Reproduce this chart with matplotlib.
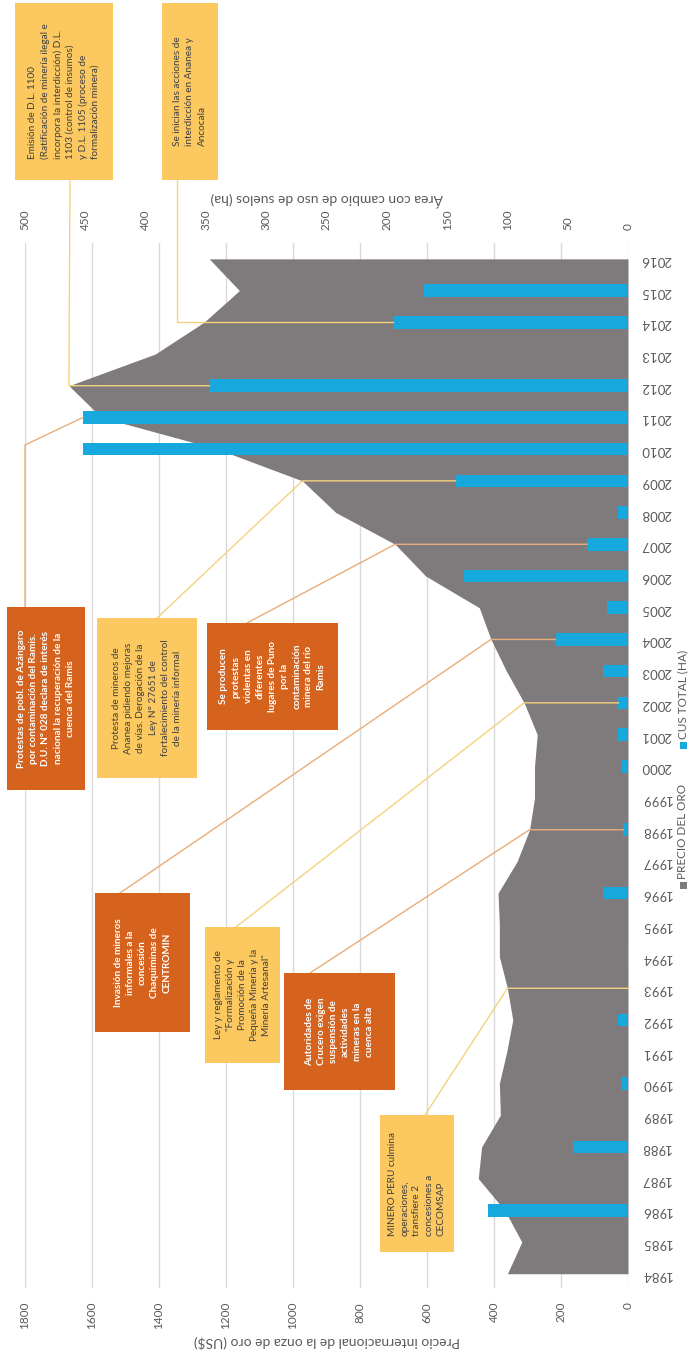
import matplotlib.pyplot as plt
from matplotlib.patches import Rectangle
from matplotlib.lines import Line2D

plt.rcParams['font.family'] = ['Lato', 'DejaVu Sans']

# datos
years = list(range(1984, 2017))
gold_price = [360, 317, 368, 447, 437, 381, 384, 362, 344, 360, 384, 384, 388,
              331, 294, 279, 279, 271, 310, 363, 409, 444, 604, 695, 872, 972,
              1225, 1572, 1669, 1411, 1266, 1160, 1250]
cus_total = [0, 0, 116, 0, 46, 0, 5, 0, 8, 0, 1, 0, 21, 0, 4, 0, 5, 8, 8, 21,
             60, 17, 136, 34, 8, 143, 452, 452, 347, 0, 195, 169, 0]
price_ticks = list(range(0, 2000, 200))
cus_ticks = list(range(0, 550, 50))

W, H = 691, 1359
GREY = '#7f7b7c'
BLUE = '#17a9de'
DARK = '#d5621d'
LIGHT = '#fcc860'
TXT = '#595959'

fig = plt.figure(figsize=(W / 100, H / 100), dpi=100)
ax = fig.add_axes([25 / W, 1 - 1288 / H, (628 - 25) / W, (1288 - 243) / H])

ax.fill_betweenx(years, 0, gold_price, color=GREY, lw=0, zorder=2)
ax.set_xlim(1800, 0)
ax.set_ylim(1983.55, 2016.5)
ax.set_xticks(price_ticks)
ax.grid(axis='x', color='#d9d9d9', lw=1)
ax.grid(axis='y', visible=False)
ax.set_axisbelow(True)
ax.tick_params(axis='x', length=0, pad=10, labelsize=8.5, labelcolor=TXT, labelrotation=90)
ax.set_yticks(years)
ax.yaxis.tick_right()
ax.tick_params(axis='y', length=0, pad=9, labelsize=9.5, labelcolor=TXT, labelrotation=180)
ax.set_xlabel('Precio internacional de la onza de oro (US$)', rotation=180,
              fontsize=10, color=TXT, labelpad=4)
for s in ax.spines.values():
    s.set_visible(False)

ax2 = ax.twiny()
ax2.barh(years, cus_total, height=0.4, color=BLUE, zorder=3)
ax2.set_xlim(500, 0)
ax2.set_xticks(cus_ticks)
ax2.tick_params(axis='x', length=0, pad=9, labelsize=8.5, labelcolor=TXT, labelrotation=90)
ax2.set_xlabel('Área con cambio de uso de suelos (ha)', rotation=180,
               fontsize=10, color=TXT, labelpad=4)
for s in ax2.spines.values():
    s.set_visible(False)

# leyenda
fig.add_artist(Rectangle(((683 - 3.5) / W, 1 - 889 / H), 7 / W, 7 / H, fc=GREY, ec='none',
                         transform=fig.transFigure))
fig.text(683 / W, 1 - 879 / H, 'PRECIO DEL ORO', rotation=90, ha='center', va='bottom',
         fontsize=8.5, color=TXT)
fig.add_artist(Rectangle(((683 - 3.5) / W, 1 - 749 / H), 7 / W, 7 / H, fc=BLUE, ec='none',
                         transform=fig.transFigure))
fig.text(683 / W, 1 - 739 / H, 'CUS TOTAL (HA)', rotation=90, ha='center', va='bottom',
         fontsize=8.5, color=TXT)

# anotaciones: caja (px), color, alineación, texto, año, puntos de la línea
notes = [
    ((15, 3, 113, 180), LIGHT, 'left',
     'Emisión de D.L. 1100\n(Ratificación de minería ilegal e\nincorpora la interdicción) D.L.\n'
     '1103 (control de insumos)\ny D.L. 1105 (proceso de\nformalización minera)',
     2012, [(70, 180)], ['gold', 'cus']),
    ((162, 3, 218, 180), LIGHT, 'left',
     'Se inician las acciones de\ninterdicción en Ananea y\nAncocala',
     2014, [(177, 180), (177, None)], ['cus']),
    ((7, 607, 85, 790), DARK, 'center',
     'Protestas de pobl. de Azángaro\npor contaminación del Ramis.\nD.U. N° 028 declara de interés\n'
     'nacional la recuperación de la\ncuenca del Ramis',
     2011, [(25, 607), (25, 445)], ['cus']),
    ((97, 618, 197, 778), LIGHT, 'center',
     'Protesta de mineros de\nAnanea pidiendo mejoras\nde vías. Derogación de la\nLey N° 27651 de\n'
     'fortalecimiento del control\nde la minería informal',
     2009, [(157, 618)], ['gold', 'cus']),
    ((207, 623, 338, 730), DARK, 'center',
     'Se producen\nprotestas\nviolentas en\ndiferentes\nlugares de Puno\npor la\ncontaminación\n'
     'minera del río\nRamis',
     2007, [(247, 623)], ['gold', 'cus']),
    ((95, 893, 190, 1032), DARK, 'center',
     'Invasión de mineros\ninformales a la\nconcesión\nChaquiminas de\nCENTROMIN',
     2004, [(120, 893)], ['gold', 'cus']),
    ((205, 927, 280, 1063), LIGHT, 'center',
     'Ley y reglamento de\n"Formalización y\nPromoción de la\nPequeña Minería y la\nMinería Artesanal"',
     2002, [(236, 927)], ['gold', 'cus']),
    ((284, 973, 395, 1090), DARK, 'center',
     'Autoridades de\nCrucero exigen\nsuspensión de\nactividades\nmineras en la\ncuenca alta',
     1998, [(310, 973)], ['gold', 'cus']),
    ((380, 1115, 454, 1252), LIGHT, 'left',
     'MINERO PERU culmina\noperaciones,\ntransfiere 2\nconcesiones a\nCECOMSAP',
     1993, [(425, 1115)], ['gold', 'cus']),
]

to_fig = fig.transFigure.inverted()
for (x0, y0, x1, y1), col, align, text, yr, pts, ends in notes:
    fig.add_artist(Rectangle((x0 / W, 1 - y1 / H), (x1 - x0) / W, (y1 - y0) / H,
                             transform=fig.transFigure, fc=col, ec='none', zorder=6))
    light = col == LIGHT
    fig.text((x0 + x1) / 2 / W, 1 - (y0 + y1) / 2 / H, text, rotation=90,
             ha='center', va='center', multialignment=align, linespacing=1.45,
             fontsize=7.2, color='#404040' if light else 'white',
             fontweight='normal' if light else 'bold', zorder=7)
    i = years.index(yr)
    row = ax.transData.transform((0, yr))[1]
    xy = []
    for px, py in pts:
        xy.append((px, H - py) if py is not None else (px, row))
    for e in ends:
        if e == 'gold':
            xy.append(ax.transData.transform((gold_price[i], yr)))
        else:
            xy.append(ax2.transData.transform((cus_total[i], yr)))
    fxy = to_fig.transform(xy)
    fig.add_artist(Line2D(fxy[:, 0], fxy[:, 1], transform=fig.transFigure,
                          color='#f5d27e' if light else '#e9ad78', lw=1, zorder=4))

fig.savefig('out.png', dpi=100)
